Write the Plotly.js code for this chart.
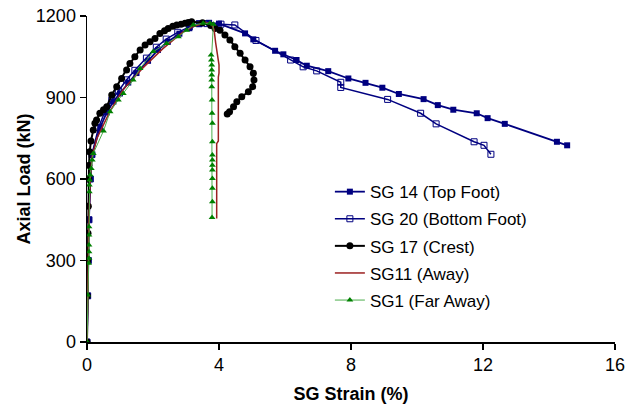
<!DOCTYPE html>
<html>
<head>
<meta charset="utf-8">
<script src="https://cdn.plot.ly/plotly-3.0.1.min.js"></script>
<style>html,body{margin:0;padding:0;background:#fff;}#chart{width:631px;height:404px;}</style>
</head>
<body>
<div id="chart"></div>
<script>
// SG 14 (Top Foot)
var sg14X = [0, 0.02, 0.04, 0.06, 0.1, 0.15, 0.4, 0.6, 0.8, 1.0, 1.25, 1.5, 1.85, 2.15, 2.45, 2.8, 3.1, 3.4, 3.7, 4.0, 4.79, 5.04, 5.7, 5.95, 6.35, 6.66, 7.31, 7.92, 8.44, 8.95, 9.45, 10.2, 10.63, 11.1, 11.81, 12.14, 12.66, 14.24, 14.55];
var sg14Y = [0, 170, 300, 450, 600, 690, 790, 845, 885, 915, 955, 990, 1035, 1075, 1105, 1135, 1155, 1170, 1175, 1172, 1136, 1114, 1072, 1059, 1038, 1017, 997, 970, 954, 936, 913, 894, 872, 855, 842, 824, 803, 737, 724];
// SG 20 (Bottom Foot)
var sg20X = [0, 0.02, 0.04, 0.06, 0.1, 0.15, 0.35, 0.55, 0.75, 0.95, 1.2, 1.45, 1.8, 2.1, 2.4, 2.75, 3.1, 3.4, 3.63, 4.06, 4.48, 5.12, 6.17, 6.55, 6.96, 7.69, 7.69, 9.11, 10.11, 10.58, 11.73, 12.03, 12.24];
var sg20Y = [0, 170, 300, 450, 600, 690, 790, 850, 890, 925, 965, 1000, 1045, 1085, 1115, 1140, 1160, 1172, 1172, 1170, 1167, 1110, 1038, 1013, 998, 956, 937, 893, 842, 803, 737, 724, 691];
// SG 17 (Crest)
var sg17X = [0, 0.01, 0.02, 0.03, 0.04, 0.05, 0.06, 0.08, 0.12, 0.19, 0.24, 0.29, 0.39, 0.5, 0.6, 0.75, 0.9, 1.05, 1.2, 1.3, 1.45, 1.61, 1.76, 1.91, 2.06, 2.21, 2.35, 2.46, 2.6, 2.72, 2.85, 2.97, 3.07, 3.17, 3.5, 3.75, 3.88, 4.03, 4.18, 4.33, 4.48, 4.64, 4.79, 4.94, 5.04, 5.06, 5.02, 4.89, 4.69, 4.54, 4.44, 4.32, 4.25];
var sg17Y = [0, 170, 300, 400, 500, 600, 650, 700, 740, 780, 805, 817, 842, 855, 866, 909, 940, 970, 1001, 1025, 1050, 1075, 1093, 1105, 1117, 1136, 1146, 1154, 1162, 1167, 1170, 1173, 1176, 1179, 1175, 1165, 1154, 1148, 1130, 1112, 1087, 1063, 1038, 1013, 989, 964, 940, 921, 903, 884, 866, 848, 839];
// SG11 (Away)
var sg11X = [0, 0.02, 0.04, 0.06, 0.1, 0.15, 0.3, 0.5, 0.7, 0.9, 1.1, 1.4, 1.7, 2.0, 2.3, 2.6, 2.9, 3.2, 3.5, 3.75, 3.85, 3.9, 3.95, 3.97, 4.0, 4.0, 3.98, 3.98, 3.93, 3.93];
var sg11Y = [0, 170, 300, 450, 600, 680, 750, 800, 850, 890, 930, 970, 1010, 1045, 1080, 1110, 1140, 1160, 1172, 1175, 1150, 1100, 1060, 1040, 1020, 990, 975, 740, 730, 455];
// SG1 (Far Away)
var sg1X = [0, 0.02, 0.05, 0.06, 0.06, 0.06, 0.06, 0.06, 0.07, 0.07, 0.08, 0.1, 0.13, 0.16, 0.19, 0.5, 0.7, 0.95, 1.1, 1.4, 1.61, 2.01, 2.41, 2.77, 3.02, 3.22, 3.52, 3.73, 3.83, 3.76, 3.77, 3.78, 3.78, 3.78, 3.78, 3.78, 3.79, 3.79, 3.8, 3.8, 3.8, 3.8, 3.8, 3.8, 3.8, 3.8, 3.8, 3.79];
var sg1Y = [0, 173, 290, 308, 332, 357, 394, 424, 553, 578, 596, 615, 639, 670, 694, 777, 848, 891, 915, 964, 1007, 1069, 1099, 1124, 1148, 1167, 1173, 1173, 1170, 1056, 1038, 1020, 1001, 983, 964, 940, 891, 842, 805, 737, 688, 670, 651, 633, 602, 566, 516, 458];

var xTicks = [0, 4, 8, 12, 16];
var yTicks = [0, 300, 600, 900, 1200];

var navy = '#000080';
var traces = [
  {name: 'SG 14 (Top Foot)', x: sg14X, y: sg14Y, mode: 'lines+markers', legendgroup: 'a',
   line: {color: navy, width: 1.8}, marker: {symbol: 'square', size: 6, color: navy}},
  {name: 'SG 20 (Bottom Foot)', x: sg20X, y: sg20Y, mode: 'lines+markers', legendgroup: 'b',
   line: {color: navy, width: 1.5}, marker: {symbol: 'square-open', size: 6, color: navy, line: {width: 1}}},
  {name: 'SG 17 (Crest)', x: sg17X, y: sg17Y, mode: 'lines+markers', legendgroup: 'c',
   line: {color: '#000000', width: 2}, marker: {symbol: 'circle', size: 7, color: '#000000'}},
  {name: 'SG11 (Away)', x: sg11X, y: sg11Y, mode: 'lines', legendgroup: 'd',
   line: {color: '#9b2020', width: 1.5}},
  {name: 'SG1 (Far Away)', x: sg1X, y: sg1Y, mode: 'lines+markers', legendgroup: 'e',
   line: {color: '#4cae4c', width: 1}, marker: {symbol: 'triangle-up', size: 6, color: '#008000'}}
];

var font = 'Liberation Sans, Arial, sans-serif';
var layout = {
  width: 631, height: 404,
  margin: {l: 87, r: 16, t: 16, b: 62},
  paper_bgcolor: '#ffffff', plot_bgcolor: '#ffffff',
  font: {family: font, size: 18, color: '#000'},
  showlegend: true,
  legend: {x: 0.46, y: 0.515, xanchor: 'left', yanchor: 'top', bgcolor: 'rgba(0,0,0,0)',
           font: {family: font, size: 17, color: '#000'}, traceorder: 'grouped', tracegroupgap: 2},
  xaxis: {range: [0, 16], tickvals: xTicks, ticktext: xTicks.map(String), showgrid: false, zeroline: false,
          showline: true, linecolor: '#000', linewidth: 1.5, ticks: 'outside', ticklen: 6, tickwidth: 1.5, tickcolor: '#000',
          tickfont: {size: 18}, automargin: false,
          title: {text: '<b>SG Strain (%)</b>', font: {size: 18}, standoff: 15}},
  yaxis: {range: [0, 1200], tickvals: yTicks, ticktext: yTicks.map(String), showgrid: false, zeroline: false,
          showline: true, linecolor: '#000', linewidth: 1.5, ticks: 'outside', ticklen: 6, tickwidth: 1.5, tickcolor: '#000',
          tickfont: {size: 18}, automargin: false,
          title: {text: '<b>Axial Load (kN)</b>', font: {size: 18}, standoff: 0}}
};
Plotly.newPlot('chart', traces, layout, {displayModeBar: false, staticPlot: true});
</script>
</body>
</html>
